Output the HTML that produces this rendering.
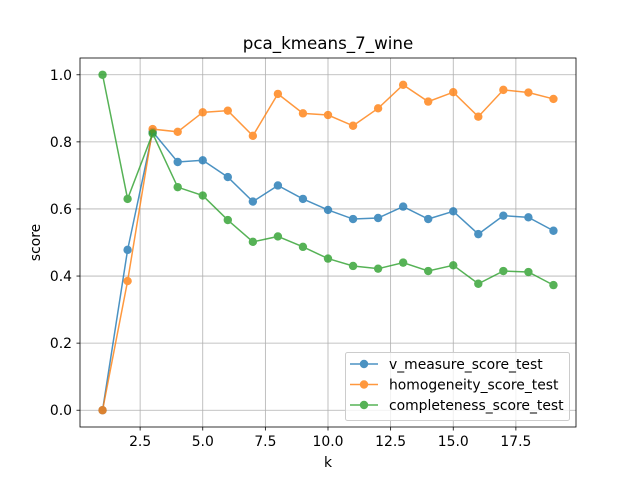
<!DOCTYPE html>
<html><head><meta charset="utf-8"><style>
body{margin:0;background:#fff;font-family:"Liberation Sans","DejaVu Sans",sans-serif;}
svg text{font-family:"DejaVu Sans","Liberation Sans",sans-serif;}
</style></head><body>
<svg id="chart" width="640" height="480" xmlns="http://www.w3.org/2000/svg"></svg>
<script>
const ks = [1,2,3,4,5,6,7,8,9,10,11,12,13,14,15,16,17,18,19];
const vMeasure = [0,0.478,0.83,0.74,0.745,0.695,0.622,0.67,0.63,0.597,0.57,0.573,0.607,0.57,0.593,0.525,0.58,0.575,0.535];
const homogeneity = [0,0.385,0.838,0.83,0.888,0.893,0.818,0.943,0.885,0.88,0.848,0.9,0.97,0.92,0.948,0.875,0.955,0.947,0.928];
const completeness = [1.0,0.63,0.825,0.665,0.64,0.567,0.502,0.518,0.487,0.452,0.43,0.422,0.44,0.415,0.432,0.377,0.415,0.412,0.373];
const xTicks = [2.5,5.0,7.5,10.0,12.5,15.0,17.5];
const yTicks = [0.0,0.2,0.4,0.6,0.8,1.0];
const seriesNames = ["v_measure_score_test","homogeneity_score_test","completeness_score_test"];

const L=80,R=576,T=58,B=427;
const xmin=0.1,xmax=19.9,ymin=-0.05,ymax=1.05;
const sx=v=>L+(v-xmin)/(xmax-xmin)*(R-L);
const sy=v=>B-(v-ymin)/(ymax-ymin)*(B-T);
const svg=document.getElementById('chart');
const NS="http://www.w3.org/2000/svg";
function mk(tag,attrs,parent){const e=document.createElementNS(NS,tag);for(const k in attrs)e.setAttribute(k,attrs[k]);(parent||svg).appendChild(e);return e;}

const grid=mk('g',{});


xTicks.forEach(t=>{
  mk('line',{x1:sx(t),x2:sx(t),y1:T,y2:B,stroke:'#b0b0b0','stroke-width':0.8},grid);
  mk('line',{x1:sx(t),x2:sx(t),y1:B,y2:B+3.5,stroke:'#000','stroke-width':0.8});
  const tx=mk('text',{x:sx(t),y:B+19,'text-anchor':'middle','font-size':13.9});
  tx.textContent=t.toFixed(1);
  
  
});
yTicks.forEach(t=>{
  mk('line',{x1:L,x2:R,y1:sy(t),y2:sy(t),stroke:'#b0b0b0','stroke-width':0.8},grid);
  mk('line',{x1:L-3.5,x2:L,y1:sy(t),y2:sy(t),stroke:'#000','stroke-width':0.8});
  const tx=mk('text',{x:L-8,y:sy(t)+5,'text-anchor':'end','font-size':13.9});
  tx.textContent=t.toFixed(1);
  
  
});

const colors=["#1f77b4","#ff7f0e","#2ca02c"];
[vMeasure,homogeneity,completeness].forEach((data,i)=>{
  const g=mk('g',{opacity:0.8});
  
  
  mk('polyline',{points:data.map((v,j)=>sx(ks[j])+','+sy(v)).join(' '),fill:'none',stroke:colors[i],'stroke-width':1.5},g);
  data.forEach((v,j)=>{
    const c=mk('circle',{cx:sx(ks[j]),cy:sy(v),r:4.2,fill:colors[i]},g);
    
    
  });
});

const frame=mk('rect',{x:L,y:T,width:R-L,height:B-T,fill:'none',stroke:'#000','stroke-width':0.8});



const title=mk('text',{x:(L+R)/2,y:49,'text-anchor':'middle','font-size':16.7});
title.textContent='pca_kmeans_7_wine';


const xl=mk('text',{x:(L+R)/2,y:467,'text-anchor':'middle','font-size':13.9});
xl.textContent='k';


const yl=mk('text',{x:0,y:0,'text-anchor':'middle','font-size':13.9,transform:'translate(40,'+((T+B)/2)+') rotate(-90)'});
yl.textContent='score';



const lg=mk('g',{});


mk('rect',{x:345.5,y:352.5,width:224,height:68,rx:2,fill:'#fff','fill-opacity':0.8,stroke:'#ccc'},lg);
seriesNames.forEach((n,i)=>{
  const y=364+i*20.5;
  const e=mk('g',{},lg);
  
  
  const s=mk('g',{opacity:0.8},e);
  mk('line',{x1:350,x2:378,y1:y,y2:y,stroke:colors[i],'stroke-width':1.5},s);
  mk('circle',{cx:364,cy:y,r:4.2,fill:colors[i]},s);
  const t=mk('text',{x:389,y:y+5,'font-size':13.9},e);
  t.textContent=n;
});
</script>
</body></html>
